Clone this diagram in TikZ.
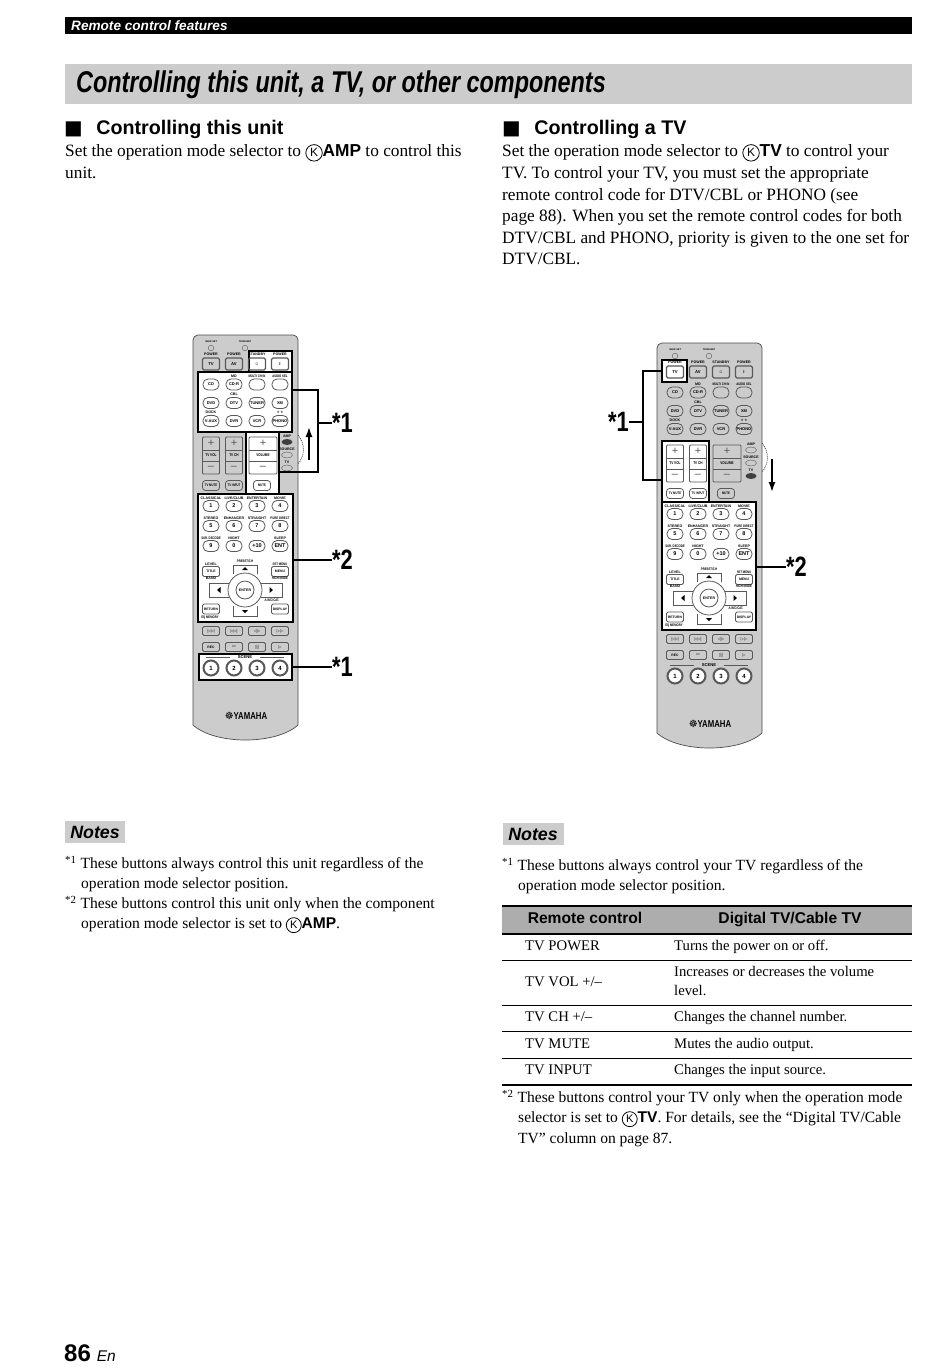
\documentclass[tikz,border=0pt]{standalone}
\usepackage{fontspec}
\usetikzlibrary{arrows.meta}
\setmainfont{Liberation Serif}
\setsansfont{Liberation Sans}
\newfontfamily\symfont{DejaVu Sans}
\newfontfamily\titlefont[FakeStretch=0.78]{Liberation Sans}
\definecolor{bandgray}{gray}{0.8}
\definecolor{headgray}{gray}{0.68}
\definecolor{bodygray}{gray}{0.8}
\definecolor{keygray}{gray}{0.35}
% circled K of the selector, the font has none
\newcommand{\selmark}[2]{\tikz[baseline=(kk.base)] \node[circle, draw=black, fill=none, text=black, line width=.8, inner sep=0pt, minimum size=#2, minimum width=#2, minimum height=#2, anchor=center, font=\fontsize{#1}{#1}\sffamily] (kk) {K};}
\tikzset{
  bodytext/.style={anchor=north west, align=left, inner sep=0pt, font=\fontsize{17.3}{21.6}\selectfont},
  notetext/.style={anchor=north west, align=left, inner sep=0pt, font=\fontsize{15.55}{20.3}\selectfont},
  headtext/.style={anchor=west, inner sep=0pt, font=\fontsize{19.7}{24}\selectfont\sffamily\bfseries},
  notehead/.style={fill=bandgray, minimum width=60, minimum height=22, inner sep=0pt, font=\fontsize{17.8}{22}\selectfont\sffamily\bfseries\itshape},
  cell/.style={anchor=base west, inner sep=0pt, font=\fontsize{14.7}{19}\selectfont},
  thead/.style={anchor=base, inner sep=0pt, font=\fontsize{15.6}{20}\sffamily\bfseries},
  callout/.style={inner sep=0pt, font=\fontsize{28}{28}\titlefont\bfseries},
  calloutline/.style={line width=1.5},
  hilite/.style={fill=white, draw=black, line width=1.5},
  roundkey/.style={draw=keygray, line width=.8, rounded corners=5, minimum width=16, minimum height=11, inner sep=0pt, font=\fontsize{4}{4}\sffamily\bfseries},
  rectkey/.style={draw=keygray, line width=.8, rounded corners=1.5, minimum width=17, minimum height=10, inner sep=0pt, font=\fontsize{3.4}{4}\sffamily\bfseries},
  ringkey/.style={circle, fill=white, draw=keygray, line width=2, minimum size=15, inner sep=0pt, font=\fontsize{6}{6}\sffamily\bfseries},
  tiny/.style={inner sep=0pt, font=\fontsize{3.6}{4}\sffamily\bfseries},
  tinycn/.style={inner sep=0pt, font=\fontsize{3.6}{4}\titlefont\bfseries},
}
% keys of the remote, same for both pictures
\newcommand{\remotekeys}{
  % lamps
  \node[tiny, font=\fontsize{2.4}{3}\sffamily\bfseries] (lbuser) at (211,342) {USER SET};
  \node[tiny, font=\fontsize{2.4}{3}\sffamily\bfseries] (lbsend) at (245,342) {TRANSMIT};
  \draw[keygray] (211,348) circle (2.8);
  \draw[keygray] (245,348) circle (2.8);
  % power row
  \foreach \x/\t/\k in {211/POWER/TV, 234/POWER/AV, 257/STANDBY/$\circ$, 280/POWER/I} {
    \node[tiny] at (\x,354.5) {\t};
    \node[rectkey, line width=1.1, minimum height=12, font=\fontsize{4.2}{5}\sffamily\bfseries] at (\x,364) {\k};
  }
  % input keys
  \foreach \y/\a/\b/\c/\d in {384.5/CD/CD-R//, 403/DVD/DTV/TUNER/XM, 421/V-AUX/DVR/VCR/PHONO} {
    \node[roundkey] at (211,\y) {\a};
    \node[roundkey] at (234,\y) {\b};
    \node[roundkey] at (257,\y) {\c};
    \node[roundkey] at (280,\y) {\d};
  }
  \node[tiny] at (234,376) {MD};
  \node[tinycn] at (257,376) {MULTI CH IN};
  \node[tinycn] at (280,376) {AUDIO SEL};
  \node[tiny] at (234,394.5) {CBL};
  \node[tiny] at (211,412.5) {DOCK};
  \node[tiny] at (280,412.5) {$\star\star$};
  % volume keys
  \foreach \x/\t/\w in {211/TV VOL/17, 234/TV CH/17, 263/VOLUME/28} {
    \draw[keygray, line width=.8, rounded corners=1] (\x-\w/2,437) rectangle (\x+\w/2,474);
    \draw[keygray, line width=.8] (\x-\w/2,450) -- (\x+\w/2,450) (\x-\w/2,461) -- (\x+\w/2,461);
    \node[inner sep=0pt, font=\fontsize{11}{11}\sffamily, text=keygray] at (\x,443.5) {+};
    \node[inner sep=0pt, font=\fontsize{11}{11}\sffamily, text=keygray] at (\x,467.5) {--};
    \node[tinycn, font=\fontsize{4}{4}\titlefont\bfseries] at (\x,455.5) {\t};
  }
  \foreach \x/\t in {211/TV MUTE, 234/TV INPUT, 262/MUTE}
    \node[rectkey, rounded corners=3, font=\fontsize{3.6}{4}\titlefont\bfseries] at (\x,485.5) {\t};
  % numeric keys
  \foreach \x/\y/\t/\k in {211/506/CLASSICAL/1, 234/506/{LIVE/CLUB}/2, 257/506/ENTERTAIN/3, 280/506/MOVIE/4,
      211/526/STEREO/5, 234/526/ENHANCER/6, 257/526/STRAIGHT/7, 280/526/{\titlefont PURE DIRECT}/8,
      211/546/{\titlefont SUR. DECODE}/9, 234/546/NIGHT/0, 257/546/{}/+10, 280/546/SLEEP/ENT} {
    \node[tiny] at (\x,\y-7.5) {\t};
    \node[roundkey, font=\fontsize{5.5}{6}\sffamily\bfseries] at (\x,\y) {\k};
  }
  % cursor keys
  \draw[keygray, line width=.8] (245,590) circle (17);
  \draw[keygray, line width=.8] (245,590) circle (9);
  \node[tiny] (enter) at (245,590) {ENTER};
  \fill[black] (245,567) -- (242,570) -- (248,570) -- cycle;
  \fill[black] (245,613) -- (242,610) -- (248,610) -- cycle;
  \fill[black] (217,590) -- (220.5,587) -- (220.5,593) -- cycle;
  \fill[black] (273,590) -- (269.5,587) -- (269.5,593) -- cycle;
  \draw[keygray, line width=.8] (229,583) -- (209,583) -- (209,597) -- (229,597) (261,583) -- (282,583) -- (282,597) -- (261,597);
  \draw[keygray, line width=.8] (233,574) -- (233,565) -- (257,565) -- (257,574);
  \draw[keygray, line width=.8] (233,606) -- (233,616) -- (257,616) -- (257,606);
  \node[tinycn] at (245,561) {PRESET/CH};
  \node[tiny] at (211,564) {LEVEL};
  \node[rectkey] at (211,571.5) {TITLE};
  \node[tiny] at (211,578) {BAND};
  \node[tinycn] at (280,564) {SET MENU};
  \node[rectkey] at (280,571.5) {MENU};
  \node[tinycn] at (280,578) {HIGH MODE};
  \node[tinycn] at (272,600) {A-B/C/CAT.};
  \node[rectkey] at (211,609) {RETURN};
  \node[rectkey] at (280,609) {DISPLAY};
  \node[tinycn] at (210,617.5) {EQ MEMORY};
  % transport keys
  \foreach \x/\k in {211/|◁◁, 234/▷▷|, 257/◁▷, 280/▷▷} \node[rectkey, minimum height=9, font=\fontsize{4}{5}\symfont] at (\x,631) {\k};
  \node[rectkey, minimum height=9] at (211,647) {REC};
  \foreach \x/\k in {234/▭, 257/▯▯, 280/▷} \node[rectkey, minimum height=9, font=\fontsize{4}{5}\symfont] at (\x,647) {\k};
  % scene keys
  \node[tiny, font=\fontsize{4.2}{5}\sffamily\bfseries] at (245,657) {SCENE};
  \draw[keygray] (206,657) -- (230,657) (260,657) -- (284,657);
  \foreach \x/\k in {211/1, 234/2, 257/3, 280/4}
    \node[ringkey] at (\x,668) {\k};
  \node[inner sep=0pt, font=\fontsize{10}{10}\titlefont\bfseries] at (246,716) {{\symfont☸}YAMAHA};
}
% casing of the remote
\newcommand{\remotebody}{
  \draw[fill=bodygray, draw=black!70, line width=.7]
    (193,340) to[out=90, in=180] (198,335) -- (293,335) to[out=0, in=90] (298,340) -- (298,725)
    .. controls (276,745) and (215,745) .. (193,725) -- cycle;
  \draw[black!70, line width=.8, dash pattern=on 1 off 1] (298,435) to[bend left=40] (298,464);
}
\begin{document}
\begin{tikzpicture}[x=1pt, y=-1pt]
  \useasboundingbox (0,0) rectangle (950,1371);

  % ========== page head ==========
  \node[fill=black, minimum width=847, minimum height=17, inner sep=0pt, anchor=north west] (topbar) at (65,17) {};
  \node[anchor=west, inner sep=0pt, text=white, font=\fontsize{13.6}{16}\sffamily\bfseries\itshape] (toptext) at (71,25.5) {Remote control features};
  \node[fill=bandgray, minimum width=847, minimum height=40, inner sep=0pt, anchor=north west] (band) at (65,64) {};
  \node[anchor=west, inner sep=0pt, font=\fontsize{30}{32}\titlefont\bfseries\itshape] (title) at (76,85) {Controlling this unit, a TV, or other components};

  % ========== left column ==========
  \node[headtext] (headl) at (64,129) {{\symfont ■}\hspace{13.5pt}Controlling this unit};
  \node[bodytext] (bodyl) at (65,144) {Set the operation mode selector to \selmark{12}{16.5}{\sffamily\bfseries AMP} to control this\\unit.};

  % ========== right column ==========
  \node[headtext] (headr) at (502,129) {{\symfont ■}\hspace{13.5pt}Controlling a TV};
  \node[bodytext] (bodyr) at (502,144) {Set the operation mode selector to \selmark{12}{16.5}{\sffamily\bfseries TV} to control your\\TV. To control your TV, you must set the appropriate\\remote control code for DTV/CBL or PHONO (see\\page 88). When you set the remote control codes for both\\DTV/CBL and PHONO, priority is given to the one set for\\DTV/CBL.};

  % ========== left remote ==========
  \begin{scope}
    \remotebody
    \draw[hilite] (198,372) -- (249,372) -- (249,351) -- (292,351) -- (292,432) -- (279,432) -- (279,494) -- (293,494)
      -- (293,622) -- (198,622) -- (198,494) -- (246,494) -- (246,432) -- (198,432) -- cycle;
    \draw[hilite] (199,654) rectangle (292,680);
    \draw[line width=1.5] (198,494) -- (293,494);
    \draw[line width=1.5] (246,432) -- (292,432);
    \draw[line width=1.5] (198,372) -- (292,372);
    \remotekeys
    \fill[black!75] (287,442) ellipse (5.5 and 3);
    \foreach \y/\t in {449/SOURCE, 436/AMP, 462/TV} \node[tiny] at (287,\y) {\t};
    \draw[keygray] (287,455) ellipse (5.5 and 3) (287,468) ellipse (5.5 and 3);
    \coordinate (bl1) at (318,423);
    \node[callout, anchor=west] (sl1) at (332,423) {*1};
    \node[callout, anchor=west] (sl2) at (332,560) {*2};
    \node[callout, anchor=west] (sl3) at (332,667) {*1};
    \coordinate (bl2) at (293,560);
    \coordinate (bl3) at (292,667);
    \draw[calloutline] (292,390) -- (318,390) -- (318,472) -- (279,472);
    \draw[calloutline] (bl1) -- (sl1);
    \draw[calloutline] (bl2) -- (sl2);
    \draw[calloutline] (bl3) -- (sl3);
    \draw[line width=1.6, -{Latex[length=10,width=7]}] (309,460) -- (309,427);
  \end{scope}

  % ========== right remote ==========
  \begin{scope}[shift={(464,8)}]
    \remotebody
    \draw[hilite] (198,352) rectangle (223,374);
    \draw[hilite] (198,433) rectangle (245,494);
    \draw[hilite] (198,494) rectangle (292,622);
    \remotekeys
    \fill[black!75] (287,468) ellipse (5.5 and 3);
    \foreach \y/\t in {449/SOURCE, 436/AMP, 462/TV} \node[tiny] at (287,\y) {\t};
    \draw[keygray] (287,442) ellipse (5.5 and 3) (287,455) ellipse (5.5 and 3);
    \node[callout, anchor=east] (sr1) at (165,414) {*1};
    \node[callout, anchor=west] (sr2) at (322,559) {*2};
    \coordinate (br1) at (179,414);
    \coordinate (br2) at (292,559);
    \draw[calloutline] (198,363) -- (179,363) -- (179,472) -- (198,472);
    \draw[calloutline] (br1) -- (sr1);
    \draw[calloutline] (br2) -- (sr2);
    \draw[line width=1.6, -{Latex[length=10,width=7]}] (308,451) -- (308,484);
  \end{scope}

  % ========== notes left ==========
  \node[notehead] (notel) at (95,832) {Notes};
  \node[notetext] (n1l) at (65,856) {\textsuperscript{*1}\hspace{4pt}These buttons always control this unit regardless of the\\\hspace{16pt}operation mode selector position.};
  \node[notetext] (n2l) at (65,896) {\textsuperscript{*2}\hspace{4pt}These buttons control this unit only when the component\\\hspace{16pt}operation mode selector is set to \selmark{11}{15}{\sffamily\bfseries AMP}.};

  % ========== notes right ==========
  \node[notehead, minimum width=61] (noter) at (533,834) {Notes};
  \node[notetext] (n1r) at (502,858) {\textsuperscript{*1}\hspace{4pt}These buttons always control your TV regardless of the\\\hspace{16pt}operation mode selector position.};

  % table
  \fill[headgray] (502,906) rectangle (912,934);
  \draw[line width=1.6] (502,906) -- (912,906);
  \draw[line width=1.6] (502,934) -- (912,934);
  \node[thead] (tha) at (585,923) {Remote control};
  \node[thead] (thb) at (790,923) {Digital TV/Cable TV};
  \foreach \y/\a in {950/TV POWER, 986/{TV VOL +/--}, 1021.5/{TV CH +/--}, 1048/TV MUTE, 1074/TV INPUT}
    \node[cell] at (525,\y) {\a};
  \foreach \y/\b in {950/Turns the power on or off., 976/Increases or decreases the volume, 995/level.,
      1021.5/Changes the channel number., 1048/Mutes the audio output., 1074/Changes the input source.}
    \node[cell] at (674,\y) {\b};
  \foreach \y in {960,1005,1031,1058} \draw[line width=.8] (502,\y) -- (912,\y);
  \draw[line width=1.6] (502,1085) -- (912,1085);
  \node[notetext] (n2r) at (502,1090) {\textsuperscript{*2}\hspace{4pt}These buttons control your TV only when the operation mode\\\hspace{16pt}selector is set to \selmark{11}{15}{\sffamily\bfseries TV}. For details, see the ``Digital TV/Cable\\\hspace{16pt}TV'' column on page 87.};

  % page number
  \node[anchor=base west, inner sep=0pt, font=\fontsize{24}{26}\sffamily\bfseries] (pageno) at (64,1361) {86\hspace{6pt}{\fontsize{15.5}{20}\mdseries\itshape En}};
\end{tikzpicture}
\end{document}
